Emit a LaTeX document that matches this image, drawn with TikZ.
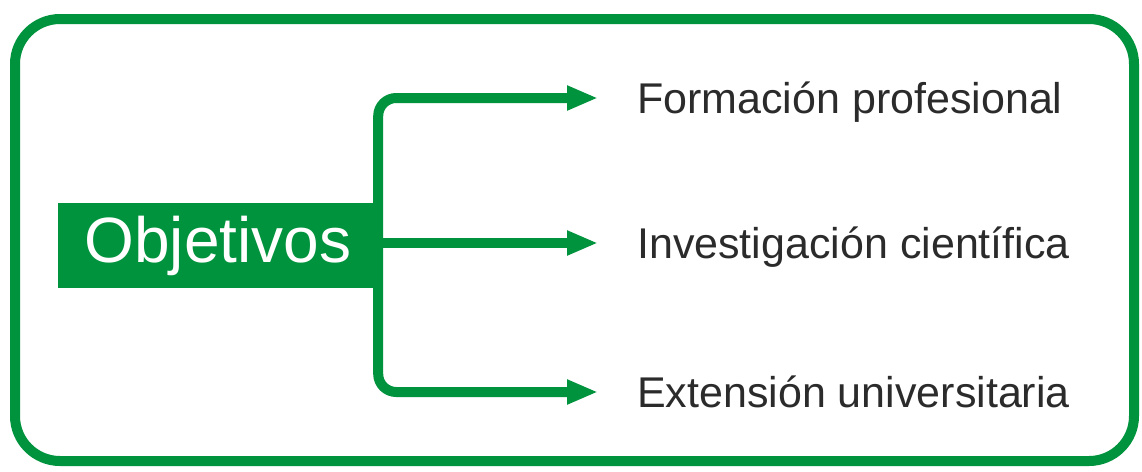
\documentclass[tikz,border=0pt]{standalone}
\usepackage{fontspec}
\setmainfont{Liberation Sans}
\usetikzlibrary{arrows.meta}
\definecolor{verde}{RGB}{0,147,62}
\definecolor{texto}{RGB}{43,43,43}
\begin{document}
\begin{tikzpicture}[x=1pt, y=-1pt,
        frame/.style={
            draw=verde, line width=10pt,
            rounded corners=45pt},
        objbox/.style={
            rectangle,
            fill=verde,
            text=white,
            minimum width=320pt,
            minimum height=85pt,
            inner sep=0pt,
            font=\fontsize{64}{70}\selectfont},
        goal/.style={
            anchor=west,
            inner sep=0pt,
            text=texto,
            text height=30pt, text depth=0pt,
            font=\fontsize{43}{50}\selectfont},
        arrow/.style={
            draw=verde, line width=10pt,
            -{Triangle[length=31pt, width=23pt]},
            shorten >=39pt}
        ]

        \useasboundingbox (0,0) rectangle (1142,471);
        \draw [frame] (15,19) rectangle (1134,461);

        \node (objetivos) [objbox] at (218,245.5) {Objetivos};
        \node (formacion) [goal] at (637,98) {Formación profesional};
        \node (investigacion) [goal] at (637,243) {Investigación científica};
        \node (extension) [goal] at (637,392) {Extensión universitaria};

        \coordinate (fork) at (objetivos.east |- investigacion.west);
        \draw [arrow, rounded corners=18pt] (fork) |- (formacion.west);
        \draw [arrow] (fork) -- (investigacion.west);
        \draw [arrow, rounded corners=18pt] (fork) |- (extension.west);

        \end{tikzpicture}
\end{document}
